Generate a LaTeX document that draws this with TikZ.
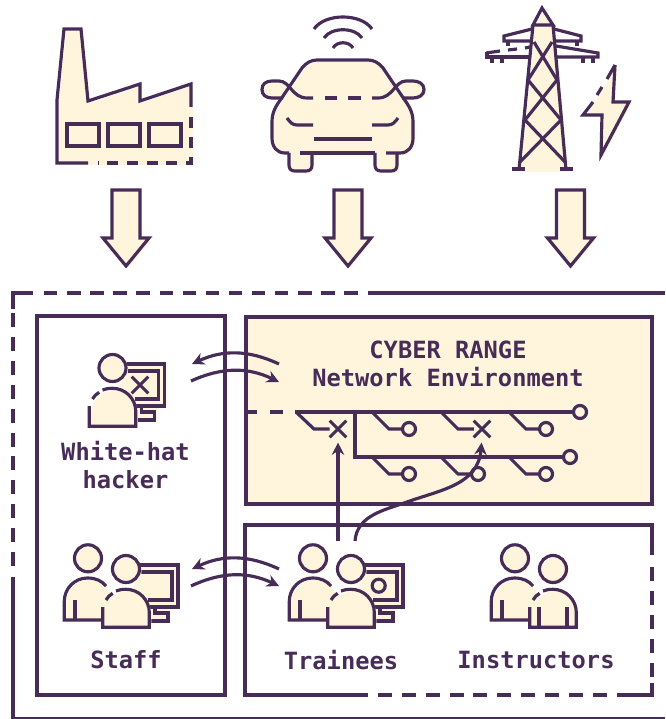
\documentclass[tikz,border=0pt]{standalone}
\usepackage{fontspec}
\setmonofont{DejaVu Sans Mono}
\usetikzlibrary{arrows.meta,shapes.misc}
\definecolor{plum}{HTML}{472C58}
\definecolor{cream}{HTML}{FFF4DC}
\tikzstyle{ink}=[draw = plum, line width = 1.8pt]
\tikzstyle{tint}=[fill = cream, shift = {(2,2)}]
\tikzstyle{longdash}=[dash pattern = on 7.94pt off 5.67pt]
\tikzstyle{flow}=[ink, -{Stealth[length = 7pt, width = 7pt]}]
\tikzstyle{port}=[shape = circle, minimum size = 7.4pt, inner sep = 0pt, ink, fill = cream]
\tikzstyle{crossmark}=[shape = cross out, minimum size = 7.6pt, inner sep = 0pt, ink]
\tikzstyle{caption}=[text = plum, align = center, inner sep = 0pt, font = \ttfamily\bfseries\fontsize{13.5pt}{16.3pt}\selectfont]
\newcommand{\screenicon}{
\fill[tint] (140,565) -- (178,565) -- (178,607) -- (168,607) -- (168,621) -- (150,621) -- (125,600) -- cycle;
\draw[ink] (140,565) -- (178,565) -- (178,607) -- (148,607);
\draw[ink] (140,572) -- (172,572) -- (172,600) -- (148,600);
\draw[ink] (155,607) -- (155,613) -- (168,613) -- (168,621) -- (149,621);
}
\newcommand{\backperson}{
\fill[tint] (64.3,620) -- (64.3,601.2) .. controls (64.3,588.4) and (74.7,578) .. (87.5,578) .. controls (100.3,578) and (110.7,588.4) .. (110.7,601.2) -- (110.7,620) -- cycle;
\draw[ink] (102,620) -- (64.3,620) -- (64.3,601.2) .. controls (64.3,588.4) and (74.7,578) .. (87.5,578) .. controls (96,578) and (102,581) .. (106,586);
\draw[ink] (75,600) -- (75,620);
\fill[tint] (88,558.3) circle [radius = 13.5];
\draw[ink] (88,558.3) circle [radius = 13.5];
}
\newcommand{\frontperson}{
\fill[tint] (102.7,627.3) -- (102.7,612.6) .. controls (102.7,599.7) and (113.1,589.3) .. (126,589.3) .. controls (138.9,589.3) and (149.3,599.7) .. (149.3,612.6) -- (149.3,627.3) -- cycle;
\draw[ink] (116,591) .. controls (119,589.8) and (122,589.3) .. (126,589.3) .. controls (138.9,589.3) and (149.3,599.7) .. (149.3,612.6) -- (149.3,627.3) -- (102.7,627.3) -- (102.7,607);
\draw[ink] (106,600) .. controls (107.5,597) and (110,595) .. (112.7,593.3);
\fill[tint] (126,569) circle [radius = 13.5];
\draw[ink] (126,569) circle [radius = 13.5];
}
\begin{document}
\begin{tikzpicture}[x = 0.02cm, y = -0.02cm]
\useasboundingbox (0,0) rectangle (665,719);

\fill[tint] (57,163) -- (57,100) -- (64,29) -- (81,29) -- (88,101) -- (140,84) -- (140,101) -- (191,84) -- (191,163) -- cycle;
\draw[ink] (88,163) -- (57,163) -- (57,100) -- (64,29) -- (81,29) -- (88,101) -- (140,84) -- (140,101) -- (191,84) -- (191,107);
\draw[ink, longdash, dash pattern = on 6.3pt off 5pt] (191,117) -- (191,163) -- (98,163);
\foreach \wx in {67,108,149} {
\draw[ink] (\wx,124) rectangle (\wx+32,146);
}

\draw[ink] (314,29) .. controls (325,13) and (361,13) .. (372,29);
\draw[ink] (324,38) .. controls (331,27) and (355,27) .. (362,38);
\draw[ink] (333,48) .. controls (337,41) and (349,41) .. (353,48);
\fill[tint] (285,153) .. controls (277,153) and (272,147) .. (272,138) -- (272,122) .. controls (272,112) and (276,106) .. (281,99) -- (302,68) .. controls (306,63) and (311,60) .. (317,60) -- (368,60) .. controls (374,60) and (379,63) .. (383,68) -- (404,99) .. controls (409,106) and (413,112) .. (413,122) -- (413,138) .. controls (413,147) and (408,153) .. (400,153) -- cycle;
\fill[tint] (289,153) -- (289,165) .. controls (289,169) and (291,171) .. (295,171) -- (306,171) .. controls (310,171) and (312,169) .. (312,165) -- (312,153) -- cycle;
\fill[tint] (375,153) -- (375,165) .. controls (375,169) and (377,171) .. (381,171) -- (391,171) .. controls (395,171) and (397,169) .. (397,165) -- (397,153) -- cycle;
\fill[tint] (281,98) -- (272,98) .. controls (266,98) and (262,95) .. (262,89.5) .. controls (262,84) and (266,81) .. (272,81) -- (290,81) -- cycle;
\fill[tint] (404,98) -- (413,98) .. controls (419,98) and (424,95) .. (424,89.5) .. controls (424,84) and (419,81) .. (413,81) -- (395,81) -- cycle;
\draw[ink] (289,153) -- (285,153) .. controls (277,153) and (272,147) .. (272,138) -- (272,122) .. controls (272,112) and (276,106) .. (281,99) -- (302,68) .. controls (306,63) and (311,60) .. (317,60) -- (368,60) .. controls (374,60) and (379,63) .. (383,68) -- (404,99) .. controls (409,106) and (413,112) .. (413,122) -- (413,138) .. controls (413,147) and (408,153) .. (400,153) -- (386,153);
\draw[ink] (289,153) -- (289,165) .. controls (289,169) and (291,171) .. (295,171) -- (306,171) .. controls (310,171) and (312,169) .. (312,165) -- (312,153);
\draw[ink] (375,153) -- (375,165) .. controls (375,169) and (377,171) .. (381,171) -- (391,171) .. controls (395,171) and (397,169) .. (397,165) -- (397,153);
\draw[ink] (300,153) -- (375,153);
\draw[ink] (283,98) -- (272,98) .. controls (266,98) and (262,95) .. (262,89.5) .. controls (262,84) and (266,81) .. (272,81) -- (279,81) .. controls (290,81) and (292,98) .. (307,98) -- (313,98);
\draw[ink] (402,98) -- (413,98) .. controls (419,98) and (424,95) .. (424,89.5) .. controls (424,84) and (419,81) .. (413,81) -- (406,81) .. controls (395,81) and (393,98) .. (378,98) -- (372,98);
\draw[ink] (325,98) -- (337,98);
\draw[ink] (348,98) -- (361,98);
\draw[ink] (287,118) .. controls (290,122) and (292,125) .. (297,125) -- (313,125);
\draw[ink] (398,118) .. controls (395,122) and (393,125) .. (388,125) -- (372,125);
\draw[ink] (314,139) -- (372,139);

\fill[tint] (542,8) -- (553,25) -- (566,170) -- (519,170) -- (533,25) -- cycle;
\draw[ink] (533,25) -- (542,8) -- (553,25) -- cycle;
\draw[ink] (533,25) -- (519,170);
\draw[ink] (553,25) -- (566,170);
\draw[ink] (534,42) -- (557,80) -- (525,120) -- (566,163);
\draw[ink] (552,42) -- (528,80) -- (561,120) -- (519,163);
\draw[ink] (512,169) -- (525,169);
\draw[ink] (560,169) -- (573,169);
\draw[ink] (554,29) -- (581,36) -- (581,41) -- (554,41);
\draw[ink] (532,29) -- (504,36) -- (504,41) -- (532,41);
\draw[ink] (556,46) -- (598,53) -- (598,57) -- (556,57);
\draw[ink] (487,52) -- (487,57) -- (529,57);
\draw[ink] (486,53) -- (500,51);
\draw[ink] (508,50) -- (517,49);
\draw[ink] (525,48) -- (530,47);
\foreach \hx/\hy/\hz in {508/41/46, 577/41/46, 583/57/63, 593/57/63, 492/57/63, 502/57/63} {
\draw[ink] (\hx,\hy) -- (\hx,\hz);
}
\fill[tint] (615,65) -- (613,102) -- (629,102) -- (601,155) -- (602,115) -- (583,115) -- cycle;
\draw[ink] (615,65) -- (613,102) -- (629,102) -- (601,155) -- (602,115) -- (583,115) -- (593,102);
\draw[ink] (597,95) -- (602,87);
\draw[ink] (607,79) -- (615,65);

\foreach \ax in {126,348,570.5} {
\fill[tint] (\ax-14,190) -- (\ax+14,190) -- (\ax+14,238) -- (\ax+23,238) -- (\ax,266) -- (\ax-23,238) -- (\ax-14,238) -- cycle;
\draw[ink] (\ax-14,190) -- (\ax+14,190) -- (\ax+14,238) -- (\ax+23,238) -- (\ax,266) -- (\ax-23,238) -- (\ax-14,238) -- cycle;
}

\draw[ink] (33,293) -- (13,293) -- (13,309);
\draw[ink, dash pattern = on 7.65pt off 5.5pt] (44,293) -- (360,293);
\draw[ink] (368,293) -- (665,293);
\draw[ink, longdash] (13,313) -- (13,567);
\draw[ink] (13,577) -- (13,719);
\draw[ink] (13,718.8) -- (665,718.8);

\draw[ink] (37,316) rectangle (225,695);
\draw[ink, fill = cream] (246,317) rectangle (652,504);
\draw[ink] (368,695) -- (245,695) -- (245,525) -- (652,525) -- (652,555);
\draw[ink, longdash] (652,567) -- (652,678);
\draw[ink] (652,683) -- (652,695) -- (617,695);
\draw[ink, longdash] (607,695) -- (378,695);

\node[caption] (range) at (448,364) {CYBER RANGE\\Network Environment};
\node[port] (netend) at (580,412) {};
\node[port] (subend) at (570,457) {};
\draw[ink] (247,412) -- (257,412);
\draw[ink] (270,412) -- (283,412);
\draw[ink] (295,412) -- (netend);
\draw[ink] (355,412) -- (355,457) -- (subend);
\foreach \nm/\bx/\by in {pa/372/412, pb/509/412, pc/372/457, pd/441/457, pe/509/457} {
\node[port] (\nm) at (\bx+37,\by+17) {};
\draw[ink] (\bx,\by) -- (\bx+17,\by+17) -- (\nm);
}
\node[crossmark] (crossa) at (338,429) {};
\node[crossmark] (crossb) at (482,429) {};
\draw[ink] (296,412) -- (314,429) -- (crossa);
\draw[ink] (441,412) -- (458,429) -- (crossb);

\begin{scope}[shift = {(-13.5,-201)}]
\screenicon
\frontperson
\end{scope}
\node[crossmark] (crossw) at (140,385) {};
\screenicon
\backperson
\frontperson
\begin{scope}[shift = {(225,0)}]
\screenicon
\backperson
\frontperson
\end{scope}
\node[port] (disc) at (378.7,585.7) {};
\begin{scope}[shift = {(427,0)}]
\backperson
\frontperson
\draw[ink] (112,607) -- (112,627);
\draw[ink] (140,607) -- (140,627);
\end{scope}

\node[caption] (whitehat) at (125.5,465) {White-hat\\hacker};
\node[caption] (staff) at (126,660) {Staff};
\node[caption] (trainees) at (341,660) {Trainees};
\node[caption] (instructors) at (536,660) {Instructors};

\coordinate (wa) at (279,364);
\coordinate (wb) at (192,364);
\coordinate (wc) at (191,381);
\coordinate (wd) at (279,382);
\coordinate (sa) at (279,569);
\coordinate (sb) at (192,569);
\coordinate (sc) at (191,586);
\coordinate (sd) at (279,586);
\coordinate (tailv) at (338,541);
\coordinate (tailc) at (355,541);
\draw[flow] (wa) to[bend right = 25] (wb);
\draw[flow] (wc) to[bend left = 25] (wd);
\draw[flow] (sa) to[bend right = 25] (sb);
\draw[flow] (sc) to[bend left = 25] (sd);
\draw[flow, shorten > = 3pt] (tailv) -- (crossa);
\draw[flow, shorten > = 3pt] (tailc) .. controls (357,515) and (385,510) .. (407,502) .. controls (440,490) and (478,485) .. (crossb.south);
\end{tikzpicture}
\end{document}
